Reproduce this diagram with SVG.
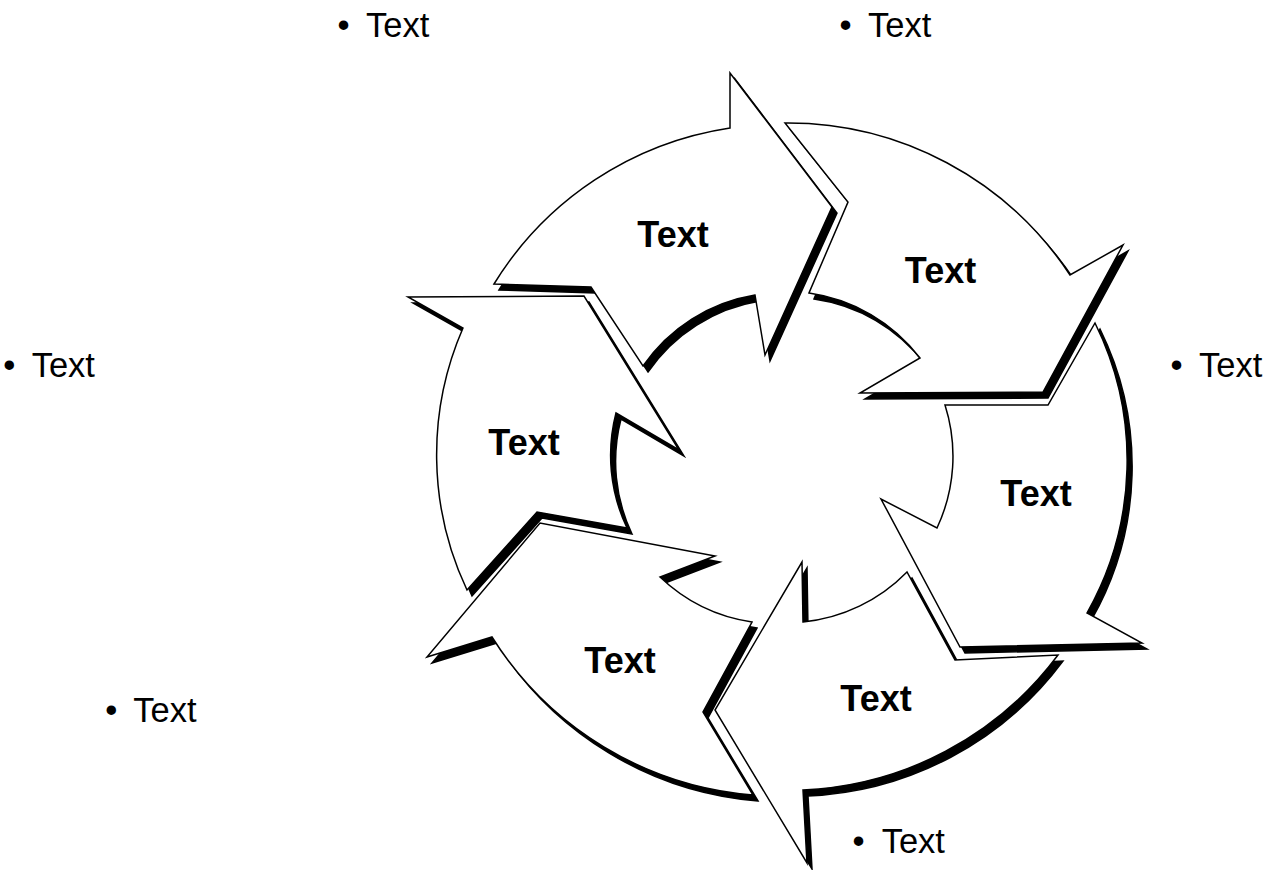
<svg xmlns="http://www.w3.org/2000/svg" xmlns:xlink="http://www.w3.org/1999/xlink" width="1271" height="870" viewBox="0 0 1271 870">
<style>
.shadow{fill:#000;stroke:#000;stroke-width:1.5;stroke-linejoin:miter;stroke-miterlimit:8}
.body{fill:#fff;stroke:#000;stroke-width:1.5;stroke-linejoin:miter;stroke-miterlimit:8}
.label{font-family:"Liberation Sans",Arial,sans-serif;font-weight:bold;font-size:36px;text-anchor:middle;fill:#000}
.bullet{font-family:"Liberation Sans",Arial,sans-serif;font-size:34.5px;fill:#000}
</style>
<defs>
<path id="p1" d="M494,284 A336,336 0 0 1 730,128 L730,73 L832,207 L765,355 L755,295 A169,169 0 0 0 643,366 L591,287 Z"/>
<path id="p2" d="M785,123 A338,338 0 0 1 1070,275 L1123,245 L1043,392 L860,393 L920,358 A169,169 0 0 0 809,293 L848,202 Z"/>
<path id="p3" d="M1095,323 A310,310 0 0 1 1087,613 L1142,643 L960,647 L881,499 L937,528 A169,169 0 0 0 945,405 L1048,405 Z"/>
<path id="p4" d="M1058,655 A336,336 0 0 1 803,790 L807,863 L715,710 L802,562 L803,622 A169,169 0 0 0 907,572 L955,660 Z"/>
<path id="p5" d="M753,795 A340,340 0 0 1 492,637 L427,657 L540,523 L715,556 L660,577 A169,169 0 0 0 752,622 L703,712 Z"/>
<path id="p6" d="M467,590 A317,317 0 0 1 463,328 L408,297 L584,296 L679,450 L616,413 A169,169 0 0 0 627,528 L537,512 Z"/>
</defs>
<rect width="1271" height="870" fill="#fff"/>
<g id="shadows">
<use xlink:href="#p1" href="#p1" class="shadow" transform="translate(5,6)"/>
<use xlink:href="#p2" href="#p2" class="shadow" transform="translate(5,6)"/>
<use xlink:href="#p3" href="#p3" class="shadow" transform="translate(5,6)"/>
<use xlink:href="#p4" href="#p4" class="shadow" transform="translate(5,6)"/>
<use xlink:href="#p5" href="#p5" class="shadow" transform="translate(5,6)"/>
<use xlink:href="#p6" href="#p6" class="shadow" transform="translate(5,6)"/>
</g>
<g id="arrow1"><use xlink:href="#p1" href="#p1" class="body"/><text class="label" x="673" y="247">Text</text></g>
<g id="arrow2"><use xlink:href="#p2" href="#p2" class="body"/><text class="label" x="940.5" y="283">Text</text></g>
<g id="arrow3"><use xlink:href="#p3" href="#p3" class="body"/><text class="label" x="1036" y="506">Text</text></g>
<g id="arrow4"><use xlink:href="#p4" href="#p4" class="body"/><text class="label" x="876" y="711">Text</text></g>
<g id="arrow5"><use xlink:href="#p5" href="#p5" class="body"/><text class="label" x="620" y="673">Text</text></g>
<g id="arrow6"><use xlink:href="#p6" href="#p6" class="body"/><text class="label" x="524" y="455">Text</text></g>
<g id="connectors"/>
<g id="bullet-top-left"><text class="bullet"><tspan x="337.5" y="36.5">•</tspan><tspan x="366" y="36.5">Text</tspan></text></g>
<g id="bullet-top-right"><text class="bullet"><tspan x="839.5" y="36.5">•</tspan><tspan x="868" y="36.5">Text</tspan></text></g>
<g id="bullet-left"><text class="bullet"><tspan x="3.2" y="377">•</tspan><tspan x="31.7" y="377">Text</tspan></text></g>
<g id="bullet-right"><text class="bullet"><tspan x="1170.5" y="377">•</tspan><tspan x="1199" y="377">Text</tspan></text></g>
<g id="bullet-bottom-left"><text class="bullet"><tspan x="105.3" y="722">•</tspan><tspan x="133.3" y="722">Text</tspan></text></g>
<g id="bullet-bottom"><text class="bullet"><tspan x="852.5" y="853">•</tspan><tspan x="881.7" y="853">Text</tspan></text></g>
</svg>
